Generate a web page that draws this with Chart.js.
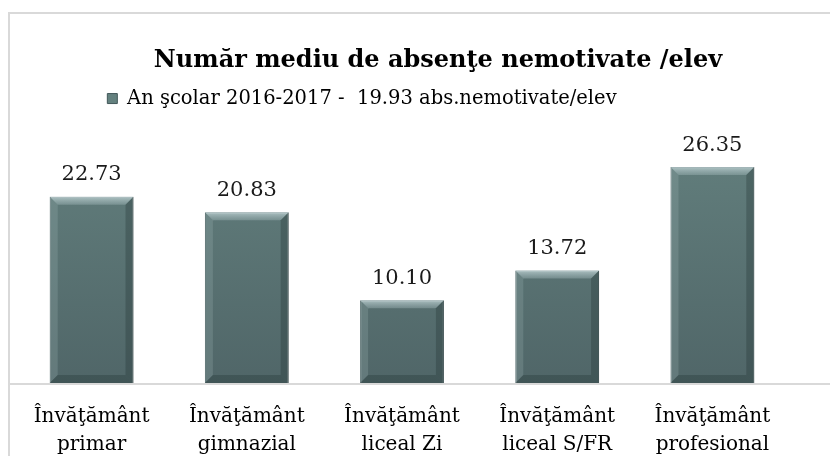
<!DOCTYPE html>
<html>
<head>
<meta charset="utf-8">
<script src="https://cdn.jsdelivr.net/npm/chart.js@4.4.1/dist/chart.umd.min.js"></script>
<style>
  html, body { margin: 0; padding: 0; background: #fff; }
  #frame {
    position: absolute; left: 8px; top: 12px; width: 840px; height: 460px;
    border-left: 2px solid #d9d9d9; border-top: 2px solid #d9d9d9;
  }
  #chart { position: absolute; left: 0; top: 0; }
</style>
</head>
<body>
<div id="frame"></div>
<canvas id="chart" width="830" height="456"></canvas>
<script>
const categories = [
  ["Învăţământ", "primar"],
  ["Învăţământ", "gimnazial"],
  ["Învăţământ", "liceal Zi"],
  ["Învăţământ", "liceal S/FR"],
  ["Învăţământ", "profesional"]
];
const seriesName = "An şcolar 2016-2017 -  19.93 abs.nemotivate/elev";
const absences = [22.73, 20.83, 10.10, 13.72, 26.35];

const serif = "'DejaVu Serif', 'Liberation Serif', serif";

// shift title and legend like the manually placed Excel boxes
const boxShift = {
  id: "boxShift",
  afterLayout(chart) {
    const t = chart.titleBlock, l = chart.legend;
    t.left += 36; t.right += 36;
    l.left -= 40; l.right -= 40;
  }
};

// horizontal axis line running across the full frame
const axisLine = {
  id: "axisLine",
  beforeDatasetsDraw(chart) {
    const ctx = chart.ctx;
    const y = chart.scales.y.getPixelForValue(0);
    ctx.save();
    ctx.strokeStyle = "#d9d9d9";
    ctx.lineWidth = 2;
    ctx.beginPath();
    ctx.moveTo(9, y + 1);
    ctx.lineTo(chart.width, y + 1);
    ctx.stroke();
    ctx.restore();
  }
};

// bevel edges and value labels on top of the bars
const barDecor = {
  id: "barDecor",
  afterDatasetsDraw(chart) {
    const ctx = chart.ctx;
    const meta = chart.getDatasetMeta(0);
    meta.data.forEach((bar, i) => {
      const l = bar.x - bar.width / 2, r = bar.x + bar.width / 2;
      const t = bar.y, b = bar.base;
      const e = 8;
      ctx.save();
      // top bevel
      const tg = ctx.createLinearGradient(0, t, 0, t + e);
      tg.addColorStop(0, "rgba(200,218,220,0.75)");
      tg.addColorStop(1, "rgba(170,192,194,0.35)");
      ctx.fillStyle = tg;
      ctx.beginPath();
      ctx.moveTo(l, t); ctx.lineTo(r, t); ctx.lineTo(r - e, t + e); ctx.lineTo(l + e, t + e);
      ctx.closePath(); ctx.fill();
      // left bevel
      ctx.fillStyle = "rgba(170,190,192,0.22)";
      ctx.beginPath();
      ctx.moveTo(l, t); ctx.lineTo(l + e, t + e); ctx.lineTo(l + e, b - e); ctx.lineTo(l, b);
      ctx.closePath(); ctx.fill();
      // right bevel
      ctx.fillStyle = "rgba(30,45,47,0.3)";
      ctx.beginPath();
      ctx.moveTo(r, t); ctx.lineTo(r - e, t + e); ctx.lineTo(r - e, b - e); ctx.lineTo(r, b);
      ctx.closePath(); ctx.fill();
      // bottom bevel
      ctx.fillStyle = "rgba(30,45,47,0.3)";
      ctx.beginPath();
      ctx.moveTo(l, b); ctx.lineTo(l + e, b - e); ctx.lineTo(r - e, b - e); ctx.lineTo(r, b);
      ctx.closePath(); ctx.fill();
      ctx.restore();

      ctx.save();
      ctx.font = "21px " + serif;
      ctx.fillStyle = "#1a1a1a";
      ctx.textAlign = "center";
      ctx.textBaseline = "middle";
      ctx.fillText(absences[i].toFixed(2), bar.x, t - 22);
      ctx.restore();
    });
  }
};

const ctx = document.getElementById("chart").getContext("2d");
new Chart(ctx, {
  type: "bar",
  data: {
    labels: categories,
    datasets: [{
      label: seriesName,
      data: absences,
      backgroundColor(c) {
        const area = c.chart.chartArea;
        if (!area) return "#587174";
        const g = c.chart.ctx.createLinearGradient(0, area.top, 0, area.bottom);
        g.addColorStop(0, "#64817f");
        g.addColorStop(1, "#506668");
        return g;
      },
      borderColor: "#43585a",
      borderWidth: 1,
      categoryPercentage: 1,
      barPercentage: 0.54
    }]
  },
  options: {
    responsive: false,
    animation: false,
    devicePixelRatio: 1,
    layout: { padding: { left: 14, right: 40, top: 0, bottom: 0 } },
    plugins: {
      title: {
        display: true,
        text: "Număr mediu de absenţe nemotivate /elev",
        color: "#000",
        font: { family: serif, size: 24, weight: "bold" },
        padding: { top: 46, bottom: 0 }
      },
      legend: {
        display: true,
        labels: {
          color: "#000",
          font: { family: serif, size: 19.5 },
          boxWidth: 10,
          boxHeight: 10,
          padding: 14
        }
      },
      tooltip: { enabled: false }
    },
    scales: {
      x: {
        grid: { display: false, drawTicks: false },
        border: { display: false },
        ticks: {
          color: "#000",
          font: { family: serif, size: 20, lineHeight: 1.4 },
          padding: 20,
          maxRotation: 0
        },
        afterFit(scale) { scale.height = 73; }
      },
      y: {
        display: false,
        min: 0,
        max: 32.3
      }
    }
  },
  plugins: [boxShift, axisLine, barDecor]
});
</script>
</body>
</html>
